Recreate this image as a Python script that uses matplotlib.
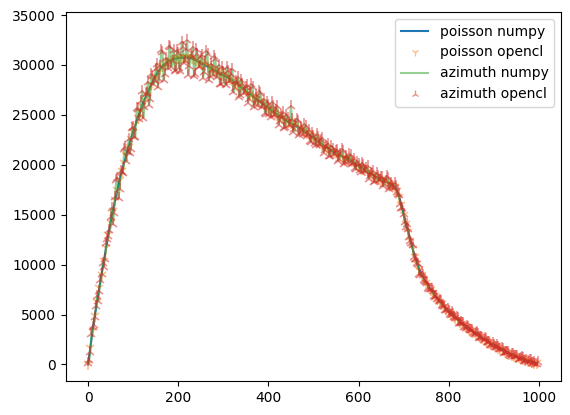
# -*- coding: utf-8 -*-
#
# poisson / azimuth integration : numpy vs opencl
#

import matplotlib
matplotlib.use("Agg")
import matplotlib.pyplot as plt

#======================================================================================================
### data (one value every 5 bins + the half-way bins for azimuth)
#======================================================================================================
x = list(range(0, 1000, 5))

poisson = [
    0, 1700, 3400, 4900, 6300, 7700, 9000, 10400, 11700, 13000,
    14200, 15400, 16500, 17500, 18500, 19400, 20200, 21000, 21800, 22600,
    23300, 24000, 24700, 25300, 25900, 26500, 27000, 27500, 28000, 28500,
    28900, 29300, 29600, 29900, 30100, 30250, 30400, 30500, 30600, 30650,
    30700, 30720, 30750, 30750, 30750, 30700, 30650, 30550, 30450, 30320,
    30200, 30070, 29950, 29850, 29750, 29620, 29500, 29370, 29250, 29120,
    29000, 28870, 28750, 28600, 28450, 28270, 28100, 27920, 27750, 27570,
    27400, 27220, 27050, 26870, 26700, 26550, 26400, 26220, 26050, 25870,
    25700, 25520, 25350, 25170, 25000, 24850, 24700, 24550, 24400, 24270,
    24150, 24020, 23900, 23770, 23650, 23500, 23350, 23200, 23050, 22870,
    22700, 22520, 22350, 22170, 22000, 21850, 21700, 21550, 21400, 21270,
    21150, 21020, 20900, 20800, 20700, 20600, 20500, 20350, 20200, 20050,
    19900, 19750, 19600, 19450, 19300, 19150, 19000, 18870, 18750, 18620,
    18500, 18400, 18300, 18200, 18100, 17950, 17800, 17400, 16800, 16000,
    15000, 14100, 13300, 12400, 11600, 10800, 10100, 9500, 9000, 8600,
    8200, 7850, 7500, 7200, 6900, 6600, 6300, 6050, 5800, 5550,
    5300, 5100, 4900, 4700, 4500, 4300, 4100, 3920, 3750, 3570,
    3400, 3250, 3100, 2950, 2800, 2650, 2500, 2350, 2200, 2070,
    1950, 1820, 1700, 1570, 1450, 1320, 1200, 1100, 1000, 900,
    800, 710, 620, 530, 450, 370, 300, 240, 180, 130,
]

azimuth = [
    180, 1220, 3760, 4780, 6900, 7400, 9060, 9800, 12120, 12820,
    14800, 14050, 16800, 18700, 17600, 19250, 21550, 20400, 22550, 21550,
    23750, 22800, 25600, 25000, 27400, 25750, 27150, 26000, 29050, 28050,
    29580, 27770, 29940, 31260, 29080, 30080, 31930, 29820, 31450, 29460,
    31210, 29360, 31770, 30410, 32450, 29850, 30820, 28850, 31640, 29810,
    30800, 28720, 30250, 31050, 28850, 29470, 30850, 28770, 30000, 28070,
    29330, 27990, 29410, 28380, 29550, 27720, 28210, 26820, 28520, 27240,
    27840, 26230, 27270, 27750, 26040, 26440, 27390, 25780, 26600, 25100,
    25970, 24800, 25890, 24990, 25900, 24400, 24790, 23650, 25030, 24000,
    25900, 23300, 24060, 24410, 23170, 23420, 24070, 22880, 23450, 22310,
    22910, 21960, 22770, 22030, 22700, 21500, 21770, 20850, 21890, 21060,
    21430, 20390, 21040, 21360, 20280, 20530, 21130, 20070, 20550, 19560,
    20080, 19270, 19960, 19330, 19900, 18850, 19060, 18270, 19170, 18440,
    18740, 17860, 18420, 18680, 17740, 17890, 18160, 17240, 17000, 15720,
    15120, 13780, 13540, 12320, 12000, 10600, 10140, 9100, 9280, 8480,
    8280, 7670, 7540, 7360, 6780, 6580, 6480, 5970, 5900, 5410,
    5360, 4940, 5020, 4660, 4700, 4200, 4120, 3720, 3890, 3510,
    3460, 3120, 3130, 3070, 2710, 2640, 2640, 2290, 2280, 1970,
    1990, 1720, 1770, 1550, 1570, 1260, 1210, 980, 1080, 860,
    850, 600, 640, 630, 380, 360, 410, 190, 240, 50,
]

# azimuth values at the half-way bins (x + 2.5)
azimuth_mid = [
    490, 3090, 3970, 5900, 6400, 8470, 10120, 10570, 12590, 13480,
    15700, 15200, 18500, 16650, 19400, 19200, 21800, 21250, 21150, 23700,
    22750, 25700, 24550, 26350, 24700, 27050, 28300, 26550, 28850, 28400,
    30120, 28600, 31450, 28470, 30690, 29650, 31810, 30380, 29440, 31530,
    29690, 32270, 30240, 31600, 29030, 31020, 31790, 29140, 31070, 29920,
    31040, 29260, 31400, 28450, 30140, 28960, 30640, 29160, 28140, 29810,
    28275, 29800, 28345, 29075, 27260, 28405, 28780, 26955, 28100, 27265,
    27970, 26585, 28060, 25795, 26955, 26035, 27190, 26025, 25190, 26335,
    25070, 26245, 24990, 25535, 24025, 24955, 25255, 23755, 24695, 24030,
    24565, 23560, 24635, 22990, 23815, 23105, 23915, 23045, 22400, 23185,
    22190, 23065, 22050, 22435, 21225, 21915, 22115, 20915, 21615, 21070,
    21505, 20610, 21550, 20120, 20860, 20270, 20985, 20205, 19635, 20325,
    19465, 20215, 19345, 19675, 18625, 19195, 19355, 18330, 18925, 18440,
    18810, 18050, 18850, 17610, 18205, 17635, 17920, 17060, 16120, 15700,
    14310, 14060, 12730, 12200, 10800, 10530, 10080, 8930, 8960, 8320,
    8175, 7550, 7600, 6825, 6825, 6350, 6375, 5900, 5500, 5550,
    5050, 5225, 4725, 4725, 4150, 4250, 4185, 3635, 3760, 3435,
    3445, 3075, 3225, 2695, 2785, 2495, 2585, 2255, 1995, 2110,
    1765, 1940, 1575, 1610, 1185, 1300, 1290, 890, 1030, 810,
    875, 565, 775, 310, 470, 255, 430, 190, 15, 200,
]

# interleave the two azimuth sets into one series
x_az = []
y_az = []
for xv, a, b in zip(x, azimuth, azimuth_mid):
    x_az += [xv, xv + 2.5]
    y_az += [a, b]

#======================================================================================================
### plot
#======================================================================================================
fig = plt.figure(figsize=(5.7, 4.15), dpi=100)
ax = fig.add_axes([0.115, 0.082, 0.869, 0.889])

ax.plot(x, poisson, label="poisson numpy")
ax.plot(x, poisson, "1", ms=8, mew=1.2, alpha=0.5, label="poisson opencl")
ax.plot(x_az, y_az, alpha=0.5, label="azimuth numpy")
ax.plot(x_az, y_az, "2", ms=8, mew=1.2, alpha=0.5, label="azimuth opencl")

ax.set_xlim(-50, 1049)
ax.set_ylim(-1650, 35300)
leg = ax.legend()
# keep the legend glyphs at the default size
for h in leg.legend_handles:
    h.set_markersize(6)
    h.set_markeredgewidth(1.0)

fig.savefig("out.png")
